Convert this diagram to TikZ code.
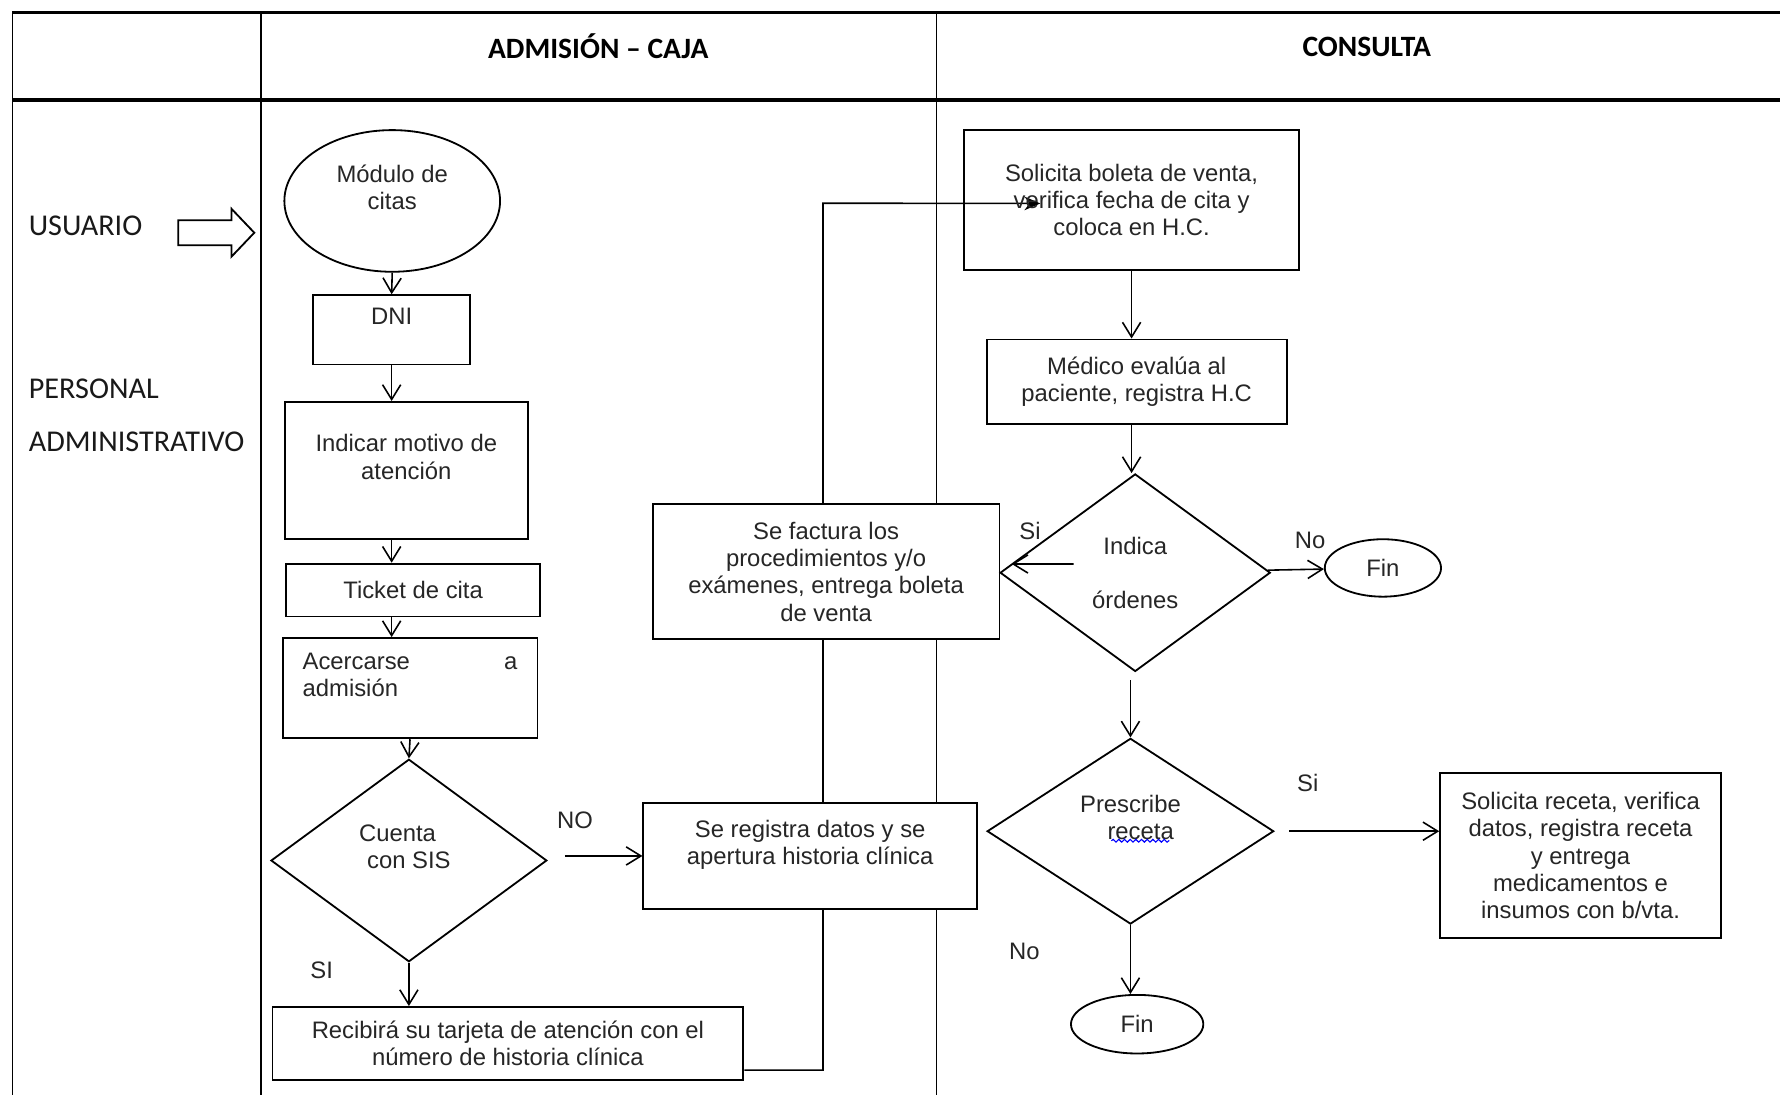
\documentclass[tikz,border=0pt]{standalone}
\usepackage{fontspec}
\setmainfont{Liberation Sans}
\newfontfamily\hdfont{Carlito}
\usetikzlibrary{shapes.geometric, arrows.meta, decorations.pathmorphing}

\pgfdeclarelayer{bg}
\pgfsetlayers{bg,main}

\begin{document}
\begin{tikzpicture}[x=0.5pt, y=-0.5pt, font=\fontsize{10.5}{12}\selectfont, text=black!85,
    box/.style={draw=black, line width=0.8pt, fill=white, inner sep=0pt, align=center},
    term/.style={ellipse, draw=black, line width=0.8pt, fill=white, inner sep=0pt, align=center},
    dec/.style={diamond, aspect=1.4, draw=black, line width=0.8pt, fill=white, inner sep=0pt, align=center},
    lbl/.style={inner sep=0pt},
    hd/.style={inner sep=0pt, text=black, font=\hdfont\bfseries\fontsize{13}{15.6}\selectfont},
    actor/.style={inner sep=0pt, anchor=west, align=left, text=black!90, font=\hdfont\fontsize{13.3}{16}\selectfont},
    lane/.style={line width=0.8pt},
    arr/.style={line width=0.7pt, -{Straight Barb[length=6.5pt,width=8pt]}},
    arrb/.style={line width=0.7pt, -{Stealth[length=7pt,width=6pt]}}]

    \useasboundingbox (0,0) rectangle (1568,965);

    % Titles:
    \node[hd] (hadm) at (527,41) {ADMISIÓN – CAJA};
    \node[hd] (hcons) at (1204,41) {CONSULTA};
    \node[actor] (usuario) at (25,199) {USUARIO};
    \node[actor] (personal) at (25,366) {PERSONAL\\[7.6pt]ADMINISTRATIVO};

    % Admision - caja:
    \node[term, minimum width=95pt, minimum height=62.4pt] (modulo) at (345.5,177) {Módulo de\\citas\\\mbox{}};
    \node[box, minimum width=69pt, minimum height=30.5pt] (dni) at (345,290.5) {DNI\\\mbox{}};
    \node[box, minimum width=106.9pt, minimum height=60.5pt] (indicar) at (357.9,414.5) {Indicar motivo de\\atención\\\mbox{}};
    \node[box, minimum width=111.9pt, minimum height=23.3pt] (ticket) at (363.9,519.8) {Ticket de cita};
    \node[box, minimum width=112.2pt, minimum height=44.2pt, align=left] (acercarse) at (361.2,606.2) {\makebox[94.6pt]{Acercarse\hfill a}\\admisión\\\mbox{}};
    \node[dec, minimum width=121.5pt, minimum height=89.2pt] (sis) at (360.2,758) {Cuenta\hspace*{10pt}\\con SIS\hspace*{7pt}\\\mbox{}};
    \node[box, minimum width=207.4pt, minimum height=32.2pt] (recibira) at (447.4,919.2) {Recibirá su tarjeta de atención con el\\número de historia clínica};
    \node[box, minimum width=147pt, minimum height=47pt] (registra) at (713.7,754) {Se registra datos y se\\apertura historia clínica\\\mbox{}};
    \node[box, minimum width=152.7pt, minimum height=59.6pt] (factura) at (727.7,503.6) {Se factura los\\procedimientos y/o\\exámenes, entrega boleta\\de venta};

    % Consulta:
    \node[box, fill=none, minimum width=147.6pt, minimum height=61.7pt] (solicita) at (996.8,176.2) {Solicita boleta de venta,\\verifica fecha de cita y\\coloca en H.C.};
    \node[box, minimum width=132.1pt, minimum height=37.4pt] (medico) at (1001.3,336.4) {Médico evalúa al\\paciente, registra H.C};
    \node[dec, minimum width=119pt, minimum height=87pt] (indica) at (1000,504.5) {Indica\\[12pt]órdenes};
    \node[term, minimum width=51.2pt, minimum height=25.3pt] (fin1) at (1218.2,500.3) {Fin};
    \node[dec, minimum width=126.2pt, minimum height=81.8pt] (prescribe) at (995.8,732.2) {Prescribe\\\hspace*{9pt}receta\\\mbox{}};
    \node[box, minimum width=123.7pt, minimum height=73pt] (receta) at (1392.3,753.6) {Solicita receta, verifica\\datos, registra receta\\y entrega\\medicamentos e\\insumos con b/vta.};
    \node[term, minimum width=58.3pt, minimum height=25.8pt] (fin2) at (1001.7,902.2) {Fin};

    % Labels:
    \node[lbl] (no1) at (506.5,722.4) {NO};
    \node[lbl] (si1) at (283.4,854.5) {SI};
    \node[lbl] (si2) at (907.4,468) {Si};
    \node[lbl] (no2) at (1154,475.7) {No};
    \node[lbl] (si3) at (1152,690) {Si};
    \node[lbl] (no3) at (902.3,838) {No};

    % Frame and back connector:
    \begin{pgfonlayer}{bg}
        \draw[line width=1.2pt] (11,11) -- (1568,11);
        \draw[line width=1.6pt] (11,88) -- (1568,88);
        \draw[lane] (11,11) -- (11,965);
        \draw[lane] (230,11) -- (230,965);
        \draw[lane] (825,11) -- (825,965);
        \coordinate (turn) at (725,179);
        \draw[arrb] ([yshift=-11.7pt]recibira.east) -| (turn) -- ([xshift=34pt,yshift=-1.5pt]solicita.west);
    \end{pgfonlayer}

    % Block arrow:
    \draw[line width=0.8pt] (157,194) -- (204,194) -- (204,184) -- (224,205) -- (204,226) -- (204,216) -- (157,216) -- cycle;

    % Connectors:
    \draw[arr] (modulo.south) -- (dni.north);
    \draw[arr] (dni.south) -- (dni.south |- indicar.north);
    \draw[arr] (dni.south |- indicar.south) -- (dni.south |- ticket.north);
    \draw[arr] (dni.south |- ticket.south) -- (dni.south |- acercarse.north);
    \draw[arr] (acercarse.south) -- (sis.north);
    \draw[arr] (sis.south) -- (sis.south |- recibira.north);
    \draw[arr, shorten <=7.5pt] (sis.east |- registra.west) -- (registra.west);

    \draw[arr] (solicita.south) -- (solicita.south |- medico.north);
    \draw[arr] (solicita.south |- medico.south) -- (solicita.south |- indica.north);
    \draw[arr] ([xshift=32.75pt,yshift=3.85pt]indica.west) -- ([xshift=5pt,yshift=3.4pt]factura.east);
    \draw[arr] (indica) -- (fin1);
    \draw[arr, shorten <=3.5pt] (prescribe.north |- indica.south) -- (prescribe.north);
    \draw[arr, shorten <=6.5pt] (prescribe.east) -- (prescribe.east -| receta.west);
    \draw[arr] (prescribe.south) -- (prescribe.south |- fin2.north);

    % Spell mark:
    \draw[blue, line width=0.5pt, decorate, decoration={snake, amplitude=0.6pt, segment length=2.5pt}] (979,740.6) -- (1030,740.6);
\end{tikzpicture}
\end{document}
